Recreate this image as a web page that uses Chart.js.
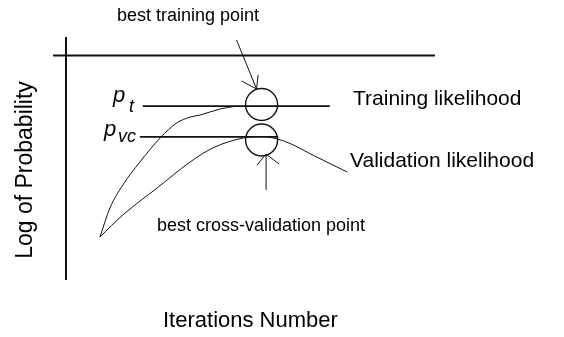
<!DOCTYPE html>
<html>
<head>
<meta charset="utf-8">
<script src="https://cdn.jsdelivr.net/npm/chart.js@4/dist/chart.umd.min.js"></script>
<style>
  html, body { margin: 0; padding: 0; background: #fff; }
  #wrap { width: 564px; height: 337px; }
</style>
</head>
<body>
<div id="wrap"><canvas id="chart" width="564" height="337"></canvas></div>
<script>
/* === DATA (iterations vs log of probability) === */
const trainIter = [9.2, 11.9, 15.4, 20, 25.5, 30, 33.6, 36.3, 41.7, 46.3];
const trainLogP = [-8.09, -6.8, -5.78, -4.76, -3.69, -3.02, -2.76, -2.67, -2.4, -2.27];

const valIter = [9.2, 15.4, 24.7, 33.6, 39.8, 48, 53.1, 57.2, 60.7, 66.9, 76.2];
const valLogP = [-8.09, -7.11, -5.91, -4.76, -4.13, -3.69, -3.62, -3.73, -3.93, -4.45, -5.2];

// reference levels p_t and p_vc (start / end iteration of each line)
const levelIter = [[20.8, 71.5], [20, 57.5]];
const levelLogP = [-2.27, -3.64];

// best points (circled)
const bestIter = [53, 53];
const bestLogP = [-2.2, -3.78];

const LABEL_FONT = '"Liberation Sans", Arial, sans-serif';
const INK = '#111';

function toPoints(xs, ys) {
  return xs.map((x, i) => ({ x: x, y: ys[i] }));
}

/* === ANNOTATIONS: axes, arrows, texts === */
const diagramPlugin = {
  id: 'diagram',
  afterDraw(chart) {
    const ctx = chart.ctx;
    const area = chart.chartArea;
    const xs = chart.scales.x, ys = chart.scales.y;
    ctx.save();
    ctx.strokeStyle = INK;
    ctx.fillStyle = '#000';

    // axes (crossing at top-left)
    ctx.lineWidth = 2;
    ctx.beginPath();
    ctx.moveTo(area.left, area.top - 18);
    ctx.lineTo(area.left, area.bottom);
    ctx.moveTo(area.left - 13, area.top + 0.5);
    ctx.lineTo(area.right, area.top + 0.5);
    ctx.stroke();

    // arrow to best training point
    const bt = { x: xs.getPixelForValue(bestIter[0]), y: ys.getPixelForValue(bestLogP[0]) };
    const tip1 = { x: bt.x - 5, y: bt.y - 15.5 };
    ctx.lineWidth = 1;
    ctx.beginPath();
    ctx.moveTo(tip1.x - 20, 40);
    ctx.lineTo(tip1.x, tip1.y);
    ctx.moveTo(tip1.x - 15, tip1.y - 8);
    ctx.lineTo(tip1.x, tip1.y);
    ctx.lineTo(tip1.x + 1.5, tip1.y - 14);
    ctx.stroke();

    // arrow to best cross-validation point
    const bv = { x: xs.getPixelForValue(bestIter[1]), y: ys.getPixelForValue(bestLogP[1]) };
    const tip2 = { x: bv.x + 4.5, y: bv.y + 14 };
    ctx.beginPath();
    ctx.moveTo(tip2.x, tip2.y + 36);
    ctx.lineTo(tip2.x, tip2.y);
    ctx.moveTo(tip2.x - 9, tip2.y + 11);
    ctx.lineTo(tip2.x, tip2.y);
    ctx.lineTo(tip2.x + 13, tip2.y + 10);
    ctx.stroke();

    // texts
    ctx.textBaseline = 'alphabetic';
    ctx.textAlign = 'left';
    ctx.font = '18px ' + LABEL_FONT;
    ctx.fillText('best training point', 117, 21);
    ctx.fillText('best cross-validation point', 157, 231);

    ctx.font = '21px ' + LABEL_FONT;
    ctx.fillText('Training likelihood', 353, 105);
    ctx.fillText('Validation likelihood', 350, 167);
    ctx.font = '22px ' + LABEL_FONT;
    ctx.fillText('Iterations Number', 163, 327);

    // level symbols p_t and p_vc
    ctx.font = 'italic 22px ' + LABEL_FONT;
    ctx.fillText('p', 113, 102);
    ctx.fillText('p', 104, 136);
    ctx.font = 'italic 18px ' + LABEL_FONT;
    ctx.fillText('t', 129, 112);
    ctx.fillText('vc', 118, 142);

    // y axis title
    ctx.font = '23px ' + LABEL_FONT;
    ctx.translate(32, 170);
    ctx.rotate(-Math.PI / 2);
    ctx.textAlign = 'center';
    ctx.fillText('Log of Probability', 0, 0);
    ctx.restore();
  }
};

/* === CHART === */
new Chart(document.getElementById('chart'), {
  type: 'line',
  data: {
    datasets: [
      {
        label: 'Training likelihood',
        data: toPoints(trainIter, trainLogP),
        borderColor: INK, borderWidth: 1, pointRadius: 0,
        cubicInterpolationMode: 'monotone', fill: false
      },
      {
        label: 'Validation likelihood',
        data: toPoints(valIter, valLogP),
        borderColor: INK, borderWidth: 1, pointRadius: 0,
        cubicInterpolationMode: 'monotone', fill: false
      },
      {
        label: 'p_t',
        data: toPoints(levelIter[0], [levelLogP[0], levelLogP[0]]),
        borderColor: INK, borderWidth: 1.6, pointRadius: 0
      },
      {
        label: 'p_vc',
        data: toPoints(levelIter[1], [levelLogP[1], levelLogP[1]]),
        borderColor: INK, borderWidth: 1.6, pointRadius: 0
      },
      {
        label: 'best points',
        data: toPoints(bestIter, bestLogP),
        showLine: false,
        pointRadius: 16, pointStyle: 'circle',
        pointBorderColor: INK, pointBorderWidth: 1.4,
        pointBackgroundColor: 'rgba(0,0,0,0)'
      }
    ]
  },
  options: {
    responsive: false,
    animation: false,
    devicePixelRatio: 1,
    layout: { padding: { left: 66, right: 129, top: 55, bottom: 57 } },
    scales: {
      x: { type: 'linear', min: 0, max: 100, display: false },
      y: { type: 'linear', min: -10, max: 0, display: false }
    },
    plugins: {
      legend: { display: false },
      tooltip: { enabled: false }
    }
  },
  plugins: [diagramPlugin]
});
</script>
</body>
</html>
